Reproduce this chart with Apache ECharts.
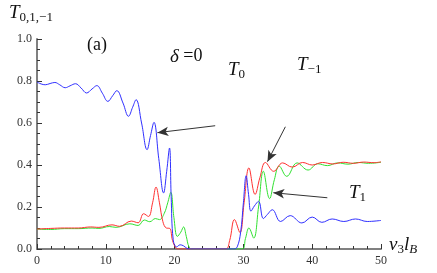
<!DOCTYPE html>
<html><head><meta charset="utf-8">
<script src="https://cdn.jsdelivr.net/npm/echarts@6/dist/echarts.min.js"></script>
<style>html,body{margin:0;padding:0;background:#fff}#c{width:437px;height:273px}</style>
</head><body><div id="c"></div>
<script>
// T0 (blue)
const t0 = [[0,0.795],[0.6,0.786],[1.2,0.782],[1.9,0.788],[2.6,0.793],[3.3,0.782],[4.1,0.768],[4.8,0.777],[5.6,0.787],[6.4,0.767],[7.2,0.743],[8.0,0.762],[8.7,0.778],[9.5,0.742],[10.3,0.703],[11.0,0.73],[11.6,0.754],[12.5,0.695],[13.3,0.632],[13.9,0.675],[14.4,0.711],[15.2,0.6],[16.0,0.473],[16.5,0.54],[17.0,0.603],[17.7,0.43],[18.4,0.267],[18.85,0.37],[19.26,0.481],[19.5,0.25],[19.8,0.044],[20.3,0.01],[20.8,0.02],[21.3,0.015],[21.8,0.003],[22.3,0],[28.6,0],[29.1,0.01],[29.6,0.08],[30.0,0.22],[30.4,0.349],[30.75,0.26],[31.1,0.18],[31.6,0.205],[32.2,0.227],[32.9,0.145],[33.5,0.165],[34.2,0.187],[35.4,0.131],[36.8,0.159],[38.5,0.124],[40.0,0.152],[41.4,0.127],[42.9,0.143],[44.6,0.131],[46.3,0.143],[48.0,0.131],[50,0.136]];
// T-1 (red)
const tm1 = [[0,0.095],[2,0.098],[4,0.1],[6,0.1],[7.8,0.105],[9,0.103],[10.9,0.115],[12,0.108],[13.7,0.133],[14.7,0.125],[15.5,0.168],[16.2,0.155],[16.8,0.22],[17.3,0.295],[17.8,0.22],[18.3,0.13],[18.8,0.1],[19.3,0.098],[19.7,0.04],[20.2,0.005],[20.6,0],[27.4,0],[28.0,0.04],[28.7,0.14],[29.5,0.078],[30.1,0.22],[30.8,0.386],[31.7,0.26],[32.4,0.34],[33.2,0.412],[34.4,0.37],[35.7,0.41],[37.1,0.39],[38.6,0.412],[40,0.4],[41.5,0.412],[43,0.405],[44.5,0.413],[46,0.408],[47.5,0.414],[49,0.411],[50,0.415]];
// T1 (green)
const t1 = [[0,0.095],[2,0.093],[4,0.097],[6,0.097],[8,0.1],[9,0.098],[10.5,0.107],[11.5,0.103],[13.5,0.12],[14.7,0.112],[15.6,0.138],[16.4,0.13],[17.2,0.145],[17.8,0.14],[18.5,0.17],[19.0,0.22],[19.45,0.27],[19.9,0.15],[20.4,0.06],[20.9,0.08],[21.3,0.105],[21.7,0.06],[22.1,0.01],[22.6,0],[29.8,0],[30.3,0.05],[30.8,0.1],[31.5,0.052],[32.2,0.2],[32.9,0.37],[33.8,0.24],[34.5,0.33],[35.2,0.395],[36.3,0.346],[37.8,0.41],[39.4,0.376],[40.8,0.406],[42.2,0.397],[43.7,0.41],[45.2,0.404],[46.7,0.412],[48.2,0.408],[50,0.413]];
const xTicks = [0,10,20,30,40,50];
const yTicks = [0.0,0.2,0.4,0.6,0.8,1.0];
// arrows: [from, to] in data coordinates
const arrowT0 = [[25.9,0.587],[17.5,0.554]];
const arrowTm1 = [[36.1,0.582],[33.5,0.416]];
const arrowT1 = [[42.2,0.244],[34.35,0.268]];

const serif = 'Liberation Serif';
const chart = echarts.init(document.getElementById('c'));
function arrow(a){ return {symbol:['none','arrow'],symbolSize:[7,11],silent:true,label:{show:false},
  lineStyle:{color:'#333',width:1,type:'solid'},data:[[{coord:a[0]},{coord:a[1]}]]}; }
const rich = {
  it:{fontFamily:serif,fontStyle:'italic',fontSize:19,color:'#111'},
  sub:{fontFamily:serif,fontSize:13,color:'#111',padding:[10,0,0,0]},
  itS:{fontFamily:serif,fontStyle:'italic',fontSize:13,color:'#111',padding:[10,0,0,0]},
  n:{fontFamily:serif,fontSize:18,color:'#111'},
  p:{fontFamily:serif,fontSize:18,color:'#111'}
};
function txt(x,y,s){ return {type:'text',left:x,top:y,style:{text:s,rich:rich,fill:'#111'}}; }
chart.setOption({
  animation:false,
  grid:{left:37,right:56,top:39,bottom:24,containLabel:false},
  xAxis:{type:'value',min:0,max:50,interval:10,
    axisLine:{onZero:false,lineStyle:{color:'#808080',width:2}},
    axisTick:{inside:true,length:5,lineStyle:{color:'#333'}},
    minorTick:{show:true,splitNumber:5,length:3,lineStyle:{color:'#333'}},
    splitLine:{show:false},
    axisLabel:{fontFamily:serif,fontSize:12,color:'#333',margin:6,formatter:v=>xTicks.includes(v)?String(v):''}},
  yAxis:{type:'value',min:0,max:1,interval:0.2,
    axisLine:{show:true,lineStyle:{color:'#808080',width:2}},
    axisTick:{show:true,inside:true,length:5,lineStyle:{color:'#333'}},
    minorTick:{show:true,splitNumber:4,length:3,lineStyle:{color:'#333'}},
    splitLine:{show:false},
    axisLabel:{fontFamily:serif,fontSize:12,color:'#333',margin:5,formatter:v=>{const f=yTicks.find(t=>Math.abs(t-v)<1e-9);return f===undefined?'':f.toFixed(1);}}},
  series:[
    {type:'line',data:tm1,smooth:0.4,symbol:'none',lineStyle:{color:'#ff3030',width:1},z:3,markLine:arrow(arrowTm1)},
    {type:'line',data:t1,smooth:0.4,symbol:'none',lineStyle:{color:'#30e030',width:1},z:2,markLine:arrow(arrowT1)},
    {type:'line',data:t0,smooth:0.4,symbol:'none',lineStyle:{color:'#3030ff',width:1},z:4,markLine:arrow(arrowT0)}
  ],
  graphic:[
    txt(9,3,'{it|T}{sub|0,1,−1}'),
    txt(87,36,'{p|(a)}'),
    txt(170,47,'{it|δ}{n| =0}'),
    txt(228,60,'{it|T}{sub|0}'),
    txt(297,55,'{it|T}{sub|−1}'),
    txt(349,183,'{it|T}{sub|1}'),
    txt(389,235,'{it|v}{sub|3}{it|l}{itS|B}')
  ]
});
</script></body></html>
